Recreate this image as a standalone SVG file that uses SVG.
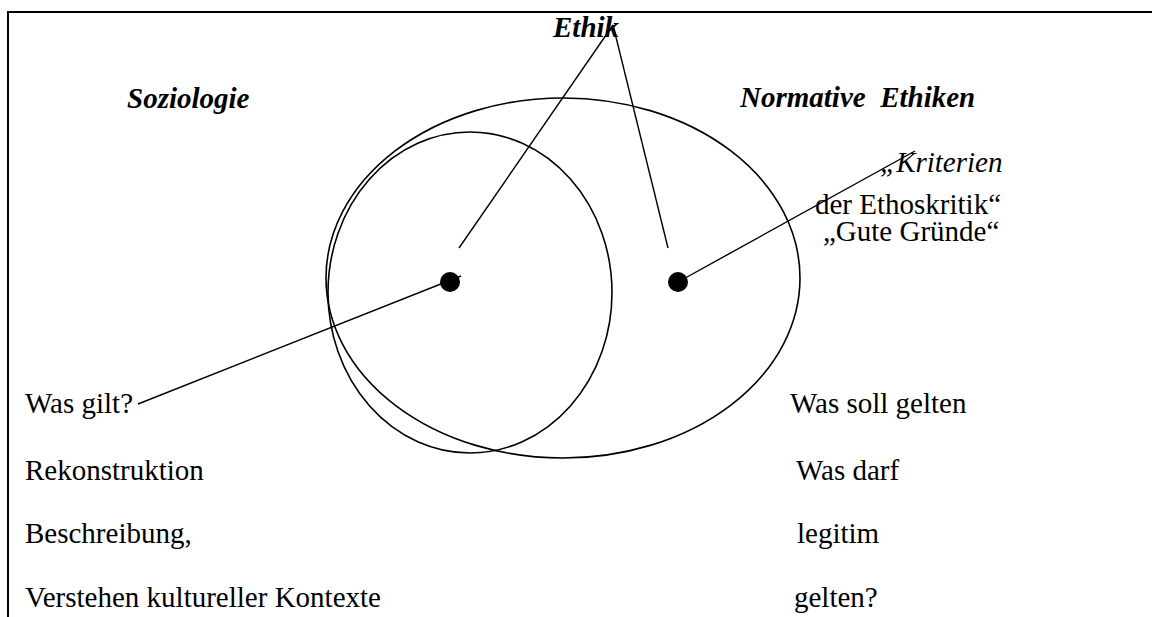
<svg xmlns="http://www.w3.org/2000/svg" width="1152" height="617" viewBox="0 0 1152 617">
<style>
text{font-family:'Liberation Serif','Times New Roman',serif;font-size:29px;fill:#000}
.bi{font-weight:bold;font-style:italic}
.it{font-style:italic}
.shape{fill:none;stroke:#000;stroke-width:1.6}
.conn{fill:none;stroke:#000;stroke-width:1.4}
.frame{fill:none;stroke:#000;stroke-width:2}
</style>
<rect width="1152" height="617" fill="#fff"/>
<path class="frame" d="M8,617 V12 H1152"/>
<g id="ellipse-normative"><ellipse class="shape" cx="563" cy="278" rx="237" ry="180"/></g>
<g id="circle-soziologie"><ellipse class="shape" cx="470" cy="292.5" rx="142" ry="160.5"/></g>
<g id="dot-left"><circle cx="450" cy="282" r="10" fill="#000"/></g>
<g id="dot-right"><circle cx="678" cy="282" r="10" fill="#000"/></g>
<g id="connectors">
<line class="conn" x1="613" y1="25" x2="459" y2="248"/>
<line class="conn" x1="613" y1="25" x2="668" y2="248"/>
<line class="conn" x1="138" y1="404" x2="461" y2="276"/>
<line class="conn" x1="678" y1="282" x2="915" y2="151"/>
</g>
<g id="label-ethik"><text class="bi" x="553" y="37">Ethik</text></g>
<g id="label-soziologie"><text class="bi" x="127" y="108">Soziologie</text></g>
<g id="label-normative"><text class="bi" x="740" y="107" xml:space="preserve">Normative  Ethiken</text></g>
<g id="label-kriterien">
<text class="it" x="880" y="172">„Kriterien</text>
<text x="815" y="214">der Ethoskritik“</text>
<text x="823" y="241">„Gute Gründe“</text>
</g>
<g id="label-left">
<text x="25" y="413">Was gilt?</text>
<text x="25" y="480">Rekonstruktion</text>
<text x="25" y="543">Beschreibung,</text>
<text x="25" y="607">Verstehen kultureller Kontexte</text>
</g>
<g id="label-right">
<text x="790" y="413">Was soll gelten</text>
<text x="796" y="480">Was darf</text>
<text x="797" y="543">legitim</text>
<text x="794" y="607">gelten?</text>
</g>
</svg>
